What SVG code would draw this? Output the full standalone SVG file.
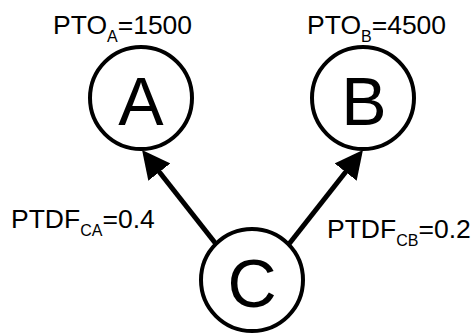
<svg xmlns="http://www.w3.org/2000/svg" width="471" height="336" viewBox="0 0 471 336">
  <style>
    .node { fill: #fff; stroke: #000; stroke-width: 4; }
    .big { font-family: "Liberation Sans", Arial, sans-serif; font-size: 68px; fill: #000; text-anchor: middle; }
    .lbl { font-family: "Liberation Sans", Arial, sans-serif; font-size: 26.5px; fill: #000; }
    .sub { font-size: 16px; }
    .edge { stroke: #000; stroke-width: 5; fill: none; }
  </style>
  <defs>
    <marker id="head" markerUnits="userSpaceOnUse" markerWidth="30" markerHeight="28" refX="14" refY="14" orient="auto">
      <path d="M0,0 L28,14 L0,28 Z" fill="#000"/>
    </marker>
  </defs>

  <g id="connectors">
    <line class="edge" x1="216" y1="244" x2="150.7" y2="161" marker-end="url(#head)"/>
    <line class="edge" x1="289" y1="244" x2="354.3" y2="161" marker-end="url(#head)"/>
  </g>

  <g id="node-A">
    <circle class="node" cx="141" cy="98" r="51"/>
    <text class="big" x="141" y="125">A</text>
    <text class="lbl" x="53" y="34">PTO<tspan class="sub" dy="8">A</tspan><tspan dy="-8">=1500</tspan></text>
  </g>

  <g id="node-B">
    <circle class="node" cx="363" cy="98" r="51"/>
    <text class="big" x="364" y="125">B</text>
    <text class="lbl" x="307" y="34">PTO<tspan class="sub" dy="8">B</tspan><tspan dy="-8">=4500</tspan></text>
  </g>

  <g id="node-C">
    <circle class="node" cx="252" cy="280" r="51"/>
    <text class="big" x="252" y="307">C</text>
  </g>

  <g id="edge-labels">
    <text class="lbl" x="11" y="228">PTDF<tspan class="sub" dy="8">CA</tspan><tspan dy="-8">=0.4</tspan></text>
    <text class="lbl" x="327" y="238">PTDF<tspan class="sub" dy="8">CB</tspan><tspan dy="-8">=0.2</tspan></text>
  </g>
</svg>
